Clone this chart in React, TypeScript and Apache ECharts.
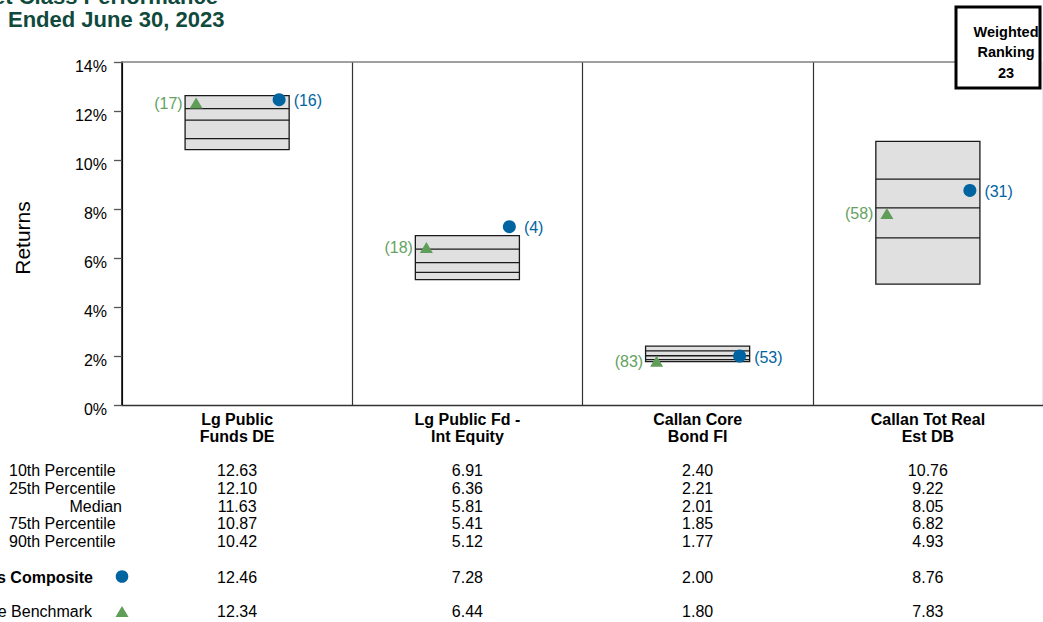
import React, { useEffect, useRef } from "react";
import * as echarts from "echarts";

const categories = [
  "Lg Public\nFunds DE",
  "Lg Public Fd -\nInt Equity",
  "Callan Core\nBond FI",
  "Callan Tot Real\nEst DB",
];
const p10 = [12.63, 6.91, 2.4, 10.76];
const p25 = [12.1, 6.36, 2.21, 9.22];
const median = [11.63, 5.81, 2.01, 8.05];
const p75 = [10.87, 5.41, 1.85, 6.82];
const p90 = [10.42, 5.12, 1.77, 4.93];
const composite = [12.46, 7.28, 2.0, 8.76];
const compositeRank = [16, 4, 53, 31];
const benchmark = [12.34, 6.44, 1.8, 7.83];
const benchmarkRank = [17, 18, 83, 58];
const rowLabels = ["10th Percentile", "25th Percentile", "Median", "75th Percentile", "90th Percentile"];
const compositeLabel = "Asset Class Composite";
const benchmarkLabel = "Composite Benchmark";
const titleLines = ["Asset Class Performance", "Ended June 30, 2023"];
const yAxisName = "Returns";
const rankingLines = ["Weighted", "Ranking", "23"];

const FONT = "'Liberation Sans', Arial, Helvetica, sans-serif";
const BLUE = "#0064a0";
const GREEN = "#5f9e59";
const GREEN_TXT = "#64a260";
const TITLE = "#0f4a3c";

const ROW_Y = [470.5, 488.5, 506, 523.5, 541.5];
const COMP_Y = 577;
const BENCH_Y = 611.5;

export default function App() {
  const ref = useRef<HTMLDivElement>(null);

  useEffect(() => {
    if (!ref.current) return;
    const chart = echarts.init(ref.current, undefined, { renderer: "svg" });

    const boxData = categories.map((_, i) => [i, p10[i], p25[i], median[i], p75[i], p90[i]]);
    const markerData = categories.map((_, i) => [i, composite[i], compositeRank[i], benchmark[i], benchmarkRank[i]]);
    const tableData = categories.map((_, i) => [i, p10[i], p25[i], median[i], p75[i], p90[i], composite[i], benchmark[i]]);

    const graphics: any[] = [
      {
        type: "text",
        x: 218,
        y: -4,
        style: { text: titleLines[0], font: `bold 22px ${FONT}`, fill: TITLE, align: "right", verticalAlign: "middle" },
      },
      {
        type: "text",
        x: 8,
        y: 19,
        style: { text: titleLines[1], font: `bold 22px ${FONT}`, fill: TITLE, align: "left", verticalAlign: "middle" },
      },
      {
        type: "text",
        x: 22,
        y: 238,
        rotation: Math.PI / 2,
        style: { text: yAxisName, font: `21px ${FONT}`, fill: "#000", align: "center", verticalAlign: "middle" },
      },
      {
        type: "line",
        shape: { x1: 122, y1: 62, x2: 956, y2: 62 },
        style: { stroke: "#808080", lineWidth: 1.5 },
        z: 5,
      },
      {
        type: "rect",
        shape: { x: 956, y: 7, width: 84, height: 81 },
        style: { fill: "#fff", stroke: "#000", lineWidth: 3 },
        z: 10,
      },
      ...rankingLines.map((t, k) => ({
        type: "text",
        x: 1006,
        y: 31.5 + k * 20.5,
        z: 11,
        style: { text: t, font: `bold 14.5px ${FONT}`, fill: "#000", align: "center", verticalAlign: "middle" },
      })),
      ...rowLabels.map((t, k) => ({
        type: "text",
        x: t === "Median" ? 122 : 9,
        y: ROW_Y[k],
        style: {
          text: t,
          font: `16px ${FONT}`,
          fill: "#000",
          align: t === "Median" ? "right" : "left",
          verticalAlign: "middle",
        },
      })),
      {
        type: "text",
        x: 93,
        y: COMP_Y,
        style: { text: compositeLabel, font: `bold 16px ${FONT}`, fill: "#000", align: "right", verticalAlign: "middle" },
      },
      {
        type: "circle",
        shape: { cx: 122, cy: COMP_Y - 0.5, r: 6.3 },
        style: { fill: BLUE },
      },
      {
        type: "text",
        x: 92,
        y: BENCH_Y,
        style: { text: benchmarkLabel, font: `16px ${FONT}`, fill: "#000", align: "right", verticalAlign: "middle" },
      },
      {
        type: "polygon",
        shape: {
          points: [
            [115.5, BENCH_Y + 5.5],
            [122, BENCH_Y - 5.5],
            [128.5, BENCH_Y + 5.5],
          ],
        },
        style: { fill: GREEN },
      },
    ];

    chart.setOption({
      animation: false,
      backgroundColor: "#fff",
      grid: { left: 122, right: 0, top: 62, bottom: 217, containLabel: false },
      xAxis: {
        type: "category",
        data: categories,
        boundaryGap: true,
        axisLine: { show: true, lineStyle: { color: "#333", width: 1.3 } },
        axisTick: { show: false },
        axisLabel: {
          interval: 0,
          margin: 5.5,
          fontFamily: FONT,
          fontSize: 16,
          fontWeight: "bold",
          color: "#000",
          lineHeight: 17,
        },
        splitLine: { show: true, interval: 0, lineStyle: { color: "#333", width: 1.2 } },
      },
      yAxis: {
        type: "value",
        min: 0,
        max: 14,
        interval: 2,
        axisLine: { show: true, lineStyle: { color: "#000", width: 1.5 } },
        axisTick: { show: true, length: 8, lineStyle: { color: "#555", width: 1.3 } },
        axisLabel: {
          formatter: "{value}%",
          fontFamily: FONT,
          fontSize: 16,
          color: "#000",
          margin: 15,
          verticalAlign: "top",
          lineHeight: 8,
        },
        splitLine: { show: false },
      },
      graphic: graphics,
      series: [
        {
          type: "custom",
          name: "box",
          data: boxData,
          clip: false,
          z: 3,
          renderItem: (params: any, api: any) => {
            const i = api.value(0);
            const x = api.coord([i, 0])[0];
            const band = api.size([1, 0])[0];
            const w = band * 0.452;
            const yTop = api.coord([i, api.value(1)])[1];
            const yBot = api.coord([i, api.value(5)])[1];
            const inner = [2, 3, 4].map((k) => api.coord([i, api.value(k)])[1]);
            return {
              type: "group",
              children: [
                {
                  type: "rect",
                  shape: { x: x - w / 2, y: yTop, width: w, height: yBot - yTop },
                  style: { fill: "#e0e0e0", stroke: "#1a1a1a", lineWidth: 1.3 },
                },
                ...inner.map((y: number) => ({
                  type: "line",
                  shape: { x1: x - w / 2, y1: y, x2: x + w / 2, y2: y },
                  style: { stroke: "#1a1a1a", lineWidth: 1.3 },
                })),
              ],
            };
          },
        },
        {
          type: "custom",
          name: "markers",
          data: markerData,
          clip: false,
          z: 4,
          renderItem: (params: any, api: any) => {
            const i = api.value(0);
            const x = api.coord([i, 0])[0];
            const cy = api.coord([i, api.value(1)])[1];
            const ty = api.coord([i, api.value(3)])[1];
            const cx = x + 42;
            const tx = x - 41;
            return {
              type: "group",
              children: [
                {
                  type: "polygon",
                  shape: {
                    points: [
                      [tx - 6.5, ty + 5.8],
                      [tx, ty - 5.2],
                      [tx + 6.5, ty + 5.8],
                    ],
                  },
                  style: { fill: GREEN },
                },
                {
                  type: "text",
                  x: tx - 13.5,
                  y: ty + 0.5,
                  style: {
                    text: `(${api.value(4)})`,
                    font: `16px ${FONT}`,
                    fill: GREEN_TXT,
                    align: "right",
                    verticalAlign: "middle",
                  },
                },
                {
                  type: "circle",
                  shape: { cx, cy, r: 6.5 },
                  style: { fill: BLUE },
                },
                {
                  type: "text",
                  x: cx + 14.5,
                  y: cy + 1,
                  style: {
                    text: `(${api.value(2)})`,
                    font: `16px ${FONT}`,
                    fill: BLUE,
                    align: "left",
                    verticalAlign: "middle",
                  },
                },
              ],
            };
          },
        },
        {
          type: "custom",
          name: "table",
          data: tableData,
          clip: false,
          z: 4,
          renderItem: (params: any, api: any) => {
            const i = api.value(0);
            const x = api.coord([i, 0])[0];
            const ys = [...ROW_Y, COMP_Y, BENCH_Y];
            return {
              type: "group",
              children: ys.map((y, k) => ({
                type: "text",
                x,
                y,
                style: {
                  text: Number(api.value(k + 1)).toFixed(2),
                  font: `16px ${FONT}`,
                  fill: "#000",
                  align: "center",
                  verticalAlign: "middle",
                },
              })),
            };
          },
        },
      ],
    });

    return () => chart.dispose();
  }, []);

  return (
    <div
      ref={ref}
      style={{ position: "fixed", left: 0, top: 0, width: 1043, height: 622, background: "#fff" }}
    />
  );
}
